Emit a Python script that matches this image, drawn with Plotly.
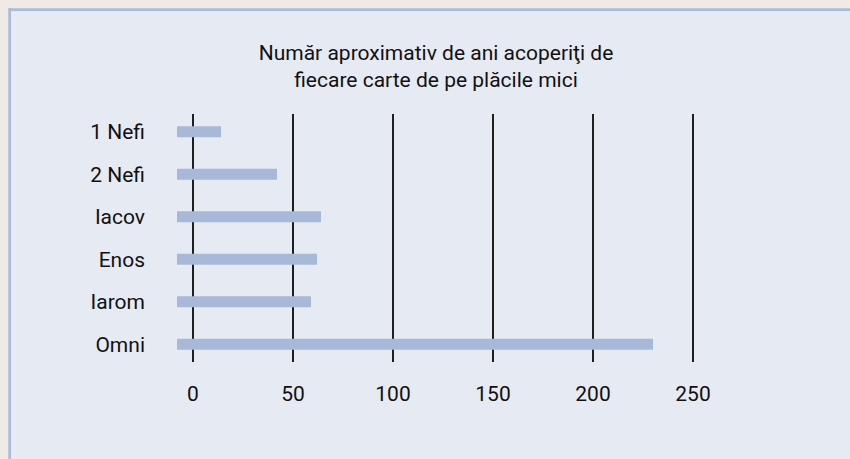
import plotly.graph_objects as go

categories = ["1 Nefi", "2 Nefi", "Iacov", "Enos", "Iarom", "Omni"]
years = [14, 42, 64, 62, 59, 230]
bar_start = -8
x_ticks = [0, 50, 100, 150, 200, 250]
title_text = "Număr aproximativ de ani acoperiţi de<br>fiecare carte de pe plăcile mici"

W, H = 850, 459
L, R, T, B = 177, 117, 114, 97
pw = W - L - R
ph = H - T - B

def px_x(p):
    return (p - L) / pw

def px_y(p):
    return 1 - (p - T) / ph

PANEL = "#e6eaf3"
BEIGE = "#efebe4"
EDGE = "#a9bcdc"
FONT = "Roboto"

fig = go.Figure()
fig.add_trace(go.Bar(
    y=categories,
    x=[v - bar_start for v in years],
    base=bar_start,
    orientation="h",
    width=0.26,
    marker=dict(color="#a7b8d8", line=dict(width=0)),
    hoverinfo="skip",
))

frame = [
    dict(type="rect", xref="paper", yref="paper", layer="below",
         x0=px_x(0), x1=px_x(W), y0=px_y(0), y1=px_y(8.3),
         fillcolor=BEIGE, line=dict(width=0)),
    dict(type="rect", xref="paper", yref="paper", layer="below",
         x0=px_x(0), x1=px_x(8.3), y0=px_y(0), y1=px_y(H),
         fillcolor=BEIGE, line=dict(width=0)),
    dict(type="line", xref="paper", yref="paper", layer="below",
         x0=px_x(8.3), x1=px_x(W), y0=px_y(9.65), y1=px_y(9.65),
         line=dict(color=EDGE, width=2.7)),
    dict(type="line", xref="paper", yref="paper", layer="below",
         x0=px_x(9.65), x1=px_x(9.65), y0=px_y(8.3), y1=px_y(H),
         line=dict(color=EDGE, width=2.7)),
]

fig.update_layout(
    width=W, height=H,
    margin=dict(l=L, r=R, t=T, b=B, pad=0),
    paper_bgcolor=PANEL,
    plot_bgcolor="rgba(0,0,0,0)",
    showlegend=False,
    font=dict(family=FONT, size=21, color="#111111"),
    title=dict(
        text=title_text,
        xref="container", yref="container",
        x=436 / W, xanchor="center",
        y=1 - 60 / H, yanchor="middle",
        font=dict(family=FONT, size=21, color="#111111"),
    ),
    shapes=frame,
    xaxis=dict(
        range=[-8, 270],
        tickvals=x_ticks,
        ticktext=[str(v) for v in x_ticks],
        showgrid=True, gridcolor="#1e1e1e", gridwidth=1.5,
        zeroline=True, zerolinecolor="#1e1e1e", zerolinewidth=1.5,
        showline=False, ticks="",
        ticklabelstandoff=17,
        tickfont=dict(family=FONT, size=21, color="#111111"),
        fixedrange=True,
    ),
    yaxis=dict(
        type="category",
        categoryorder="array", categoryarray=categories,
        range=[5.42, -0.42],
        showgrid=False, zeroline=False, showline=False, ticks="",
        ticklabelstandoff=31,
        tickfont=dict(family=FONT, size=21, color="#111111"),
        fixedrange=True,
    ),
)

fig.write_html(
    "out.html",
    config={"displayModeBar": False},
    post_script=("document.body.style.margin='0px';"
                 "document.body.style.background='" + PANEL + "';"
                 "document.documentElement.style.overflow='hidden';"),
)
